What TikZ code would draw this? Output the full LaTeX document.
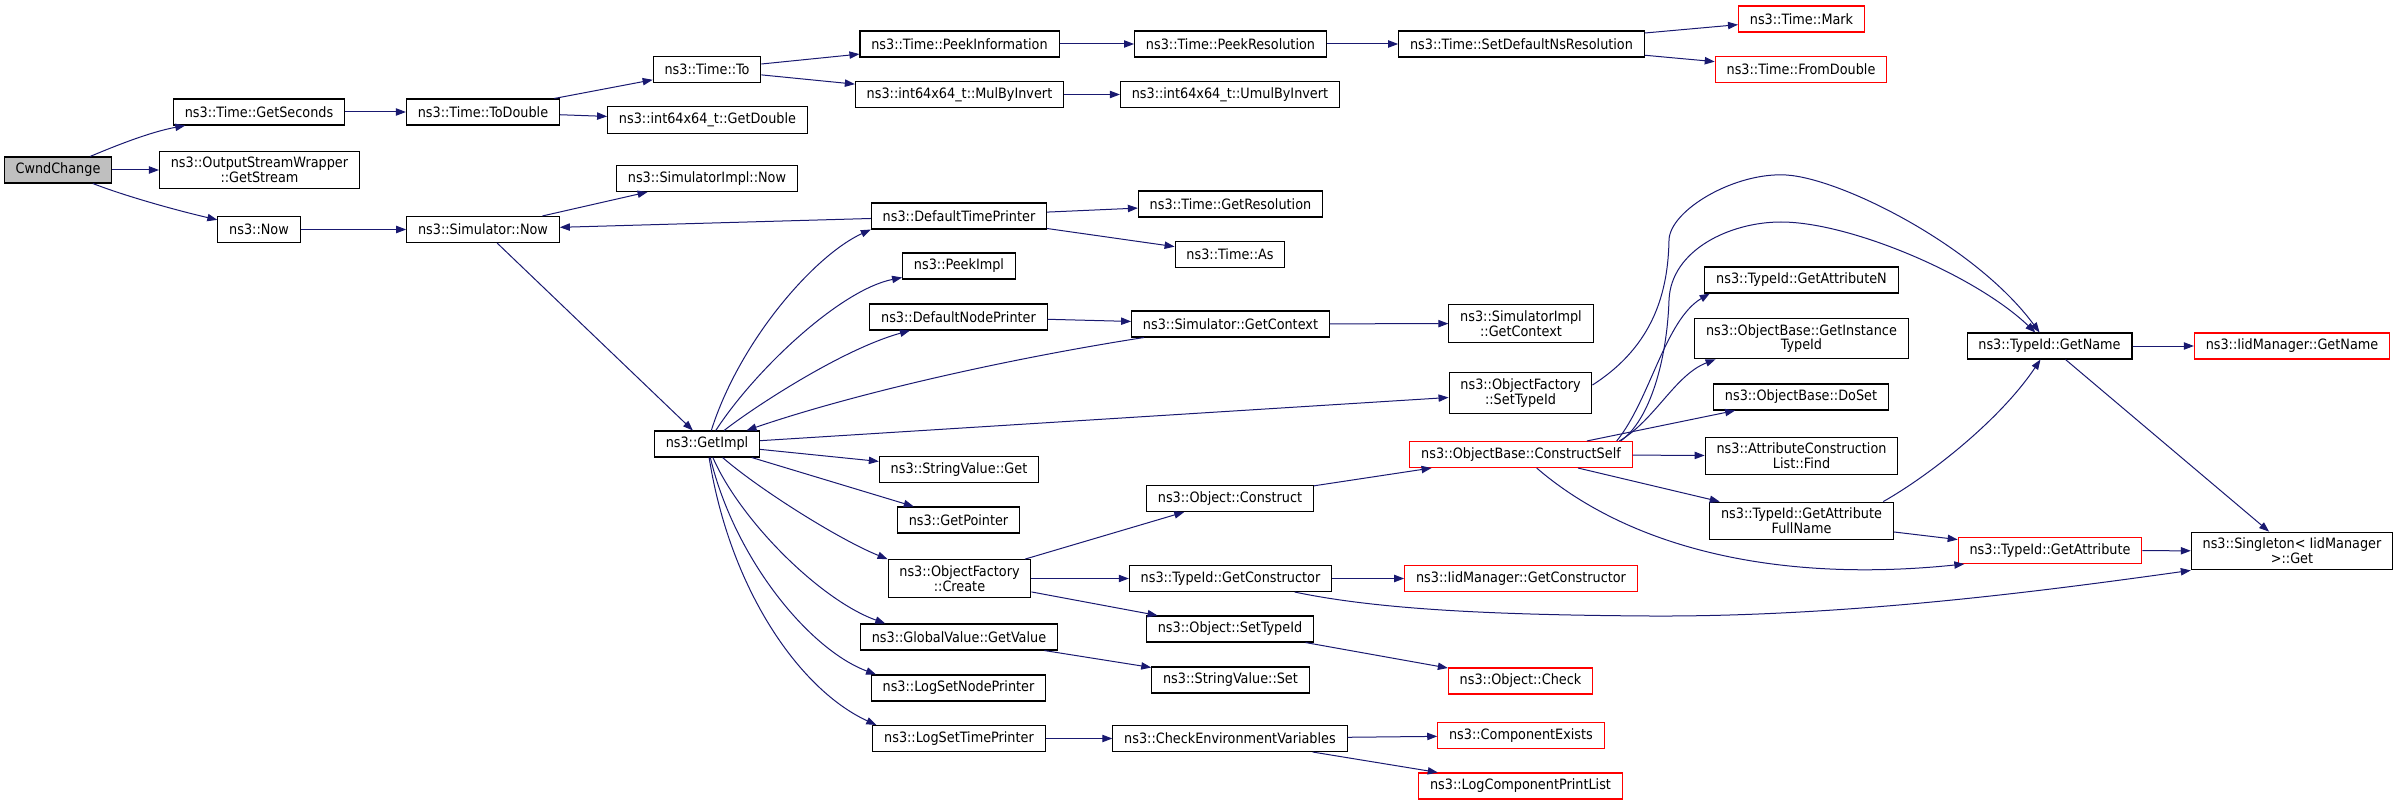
\documentclass[tikz,border=0pt]{standalone}
\usepackage{fontspec}
\IfFontExistsTF{DejaVu Sans Condensed}{\setmainfont{DejaVu Sans Condensed}}{\setmainfont{DejaVu Sans}[FakeStretch=0.9]}
\usetikzlibrary{arrows.meta}
\definecolor{edgeblue}{RGB}{25,25,112}
\definecolor{boxgray}{RGB}{191,191,191}
\definecolor{boxred}{RGB}{255,0,0}

\begin{document}
\begin{tikzpicture}[x=0.75pt,y=-0.75pt,
    fn/.style={draw=black,line width=0.8pt,fill=white,rectangle,minimum height=19.5pt,
      inner xsep=8.5pt,inner ysep=4.5pt,align=center,font=\fontsize{10.7}{11}\selectfont},
    fnred/.style={fn,draw=boxred},
    fncur/.style={fn,fill=boxgray},
    call/.style={draw=edgeblue,line width=0.75pt,-{Triangle[length=7.5pt,width=5.5pt]}}]
  \useasboundingbox (0,0) rectangle (2393,805);

  \node[fncur] (cwnd) at (58,170) {CwndChange};
  \node[fn] (gsec) at (259,112) {ns3::Time::GetSeconds};
  \node[fn] (osw) at (259.5,170) {ns3::OutputStreamWrapper\\::GetStream};
  \node[fn] (now) at (259,229.5) {ns3::Now};
  \node[fn] (todbl) at (483,112) {ns3::Time::ToDouble};
  \node[fn] (snow) at (483,229.5) {ns3::Simulator::Now};
  \node[fn] (tto) at (707,69.5) {ns3::Time::To};
  \node[fn] (gdbl) at (707.5,120) {ns3::int64x64\_t::GetDouble};
  \node[fn] (sinow) at (707,178.5) {ns3::SimulatorImpl::Now};
  \node[fn] (gimpl) at (707,444) {ns3::GetImpl};
  \node[fn] (peekinfo) at (959.5,44) {ns3::Time::PeekInformation};
  \node[fn] (mulinv) at (959.5,94.5) {ns3::int64x64\_t::MulByInvert};
  \node[fn] (dtp) at (959,216) {ns3::DefaultTimePrinter};
  \node[fn] (peekimpl) at (959,266) {ns3::PeekImpl};
  \node[fn] (dnp) at (958.5,317) {ns3::DefaultNodePrinter};
  \node[fn] (svget) at (959,469.5) {ns3::StringValue::Get};
  \node[fn] (gptr) at (958.5,520) {ns3::GetPointer};
  \node[fn] (ofcreate) at (959.5,578.5) {ns3::ObjectFactory\\::Create};
  \node[fn] (gvget) at (959,637) {ns3::GlobalValue::GetValue};
  \node[fn] (lsnp) at (958.5,688) {ns3::LogSetNodePrinter};
  \node[fn] (lstp) at (959,738.5) {ns3::LogSetTimePrinter};
  \node[fn] (peekres) at (1230.5,44) {ns3::Time::PeekResolution};
  \node[fn] (umul) at (1230,94.5) {ns3::int64x64\_t::UmulByInvert};
  \node[fn] (gres) at (1230.5,204) {ns3::Time::GetResolution};
  \node[fn] (tas) at (1230,254.5) {ns3::Time::As};
  \node[fn] (sgctx) at (1230.5,324) {ns3::Simulator::GetContext};
  \node[fn] (ocons) at (1230,498.5) {ns3::Object::Construct};
  \node[fn] (gctor) at (1230.5,578.5) {ns3::TypeId::GetConstructor};
  \node[fn] (osettid) at (1230,629) {ns3::Object::SetTypeId};
  \node[fn] (svset) at (1230.5,680) {ns3::StringValue::Set};
  \node[fn] (cev) at (1230,738.5) {ns3::CheckEnvironmentVariables};
  \node[fn] (setdef) at (1521.5,44) {ns3::Time::SetDefaultNsResolution};
  \node[fn] (sigctx) at (1521,323.5) {ns3::SimulatorImpl\\::GetContext};
  \node[fn] (ofsettid) at (1520.5,393) {ns3::ObjectFactory\\::SetTypeId};
  \node[fnred] (cself) at (1521,454.5) {ns3::ObjectBase::ConstructSelf};
  \node[fnred] (igctor) at (1521,578.5) {ns3::IidManager::GetConstructor};
  \node[fnred] (ocheck) at (1520.5,681) {ns3::Object::Check};
  \node[fnred] (cexists) at (1521,735.5) {ns3::ComponentExists};
  \node[fnred] (lcpl) at (1520.5,786) {ns3::LogComponentPrintList};
  \node[fnred] (tmark) at (1801.5,19) {ns3::Time::Mark};
  \node[fnred] (fromdbl) at (1801,69.5) {ns3::Time::FromDouble};
  \node[fn] (gattrn) at (1801.5,280) {ns3::TypeId::GetAttributeN};
  \node[fn] (ginst) at (1801.5,338.5) {ns3::ObjectBase::GetInstance\\TypeId};
  \node[fn] (doset) at (1801,397) {ns3::ObjectBase::DoSet};
  \node[fn] (acfind) at (1801.5,456) {ns3::AttributeConstruction\\List::Find};
  \node[fn] (gattrfull) at (1801.5,521) {ns3::TypeId::GetAttribute\\FullName};
  \node[fn] (gname) at (2049.5,346) {ns3::TypeId::GetName};
  \node[fnred] (gattr) at (2050,550.5) {ns3::TypeId::GetAttribute};
  \node[fnred] (iidgname) at (2292,346) {ns3::IidManager::GetName};
  \node[fn] (singleton) at (2292,551) {ns3::Singleton< IidManager\\>::Get};

  \draw[call] (cwnd) .. controls (115,146) and (150,132) .. (gsec);
  \draw[call] (cwnd) -- (osw);
  \draw[call] (cwnd) .. controls (125,196) and (175,210) .. (now);
  \draw[call] (gsec) -- (todbl);
  \draw[call] (todbl) -- (tto);
  \draw[call] (todbl) -- (gdbl);
  \draw[call] (tto) -- (peekinfo);
  \draw[call] (tto) -- (mulinv);
  \draw[call] (peekinfo) -- (peekres);
  \draw[call] (peekres) -- (setdef);
  \draw[call] (setdef) -- (tmark);
  \draw[call] (setdef) -- (fromdbl);
  \draw[call] (mulinv) -- (umul);
  \draw[call] (now) -- (snow);
  \draw[call] (snow) -- (sinow);
  \draw[call] (snow) -- (gimpl);
  \draw[call] (dtp) -- (snow);
  \draw[call] (dtp) -- (gres);
  \draw[call] (dtp) -- (tas);
  \draw[call] (gimpl) .. controls (740,340) and (815,255) .. (dtp.south west);
  \draw[call] (gimpl) .. controls (755,370) and (840,290) .. (peekimpl);
  \draw[call] (gimpl) .. controls (750,410) and (840,350) .. (dnp);
  \draw[call] (dnp) -- (sgctx);
  \draw[call] (sgctx) .. controls (1000,360) and (850,395) .. (gimpl);
  \draw[call] (sgctx) -- (sigctx);
  \draw[call] (gimpl) -- (ofsettid);
  \draw[call] (gimpl) -- (svget);
  \draw[call] (gimpl) -- (gptr);
  \draw[call] (gimpl) .. controls (760,490) and (840,540) .. (ofcreate.north west);
  \draw[call] (gimpl) .. controls (740,520) and (820,600) .. ([xshift=19pt]gvget.north west);
  \draw[call] (gimpl) .. controls (735,560) and (810,650) .. ([xshift=4pt]lsnp.north west);
  \draw[call] (gimpl) .. controls (730,590) and (800,690) .. ([xshift=3pt]lstp.north west);
  \draw[call] (ofcreate) -- (ocons);
  \draw[call] (ofcreate) -- (gctor);
  \draw[call] (ofcreate) -- (osettid);
  \draw[call] (ocons) -- (cself);
  \draw[call] (gctor) -- (igctor);
  \draw[call] (gctor) .. controls (1380,610) and (1500,615) .. (1650,616)
    .. controls (1850,617) and (2050,590) .. (singleton.south west);
  \draw[call] (osettid) -- (ocheck);
  \draw[call] (gvget) -- (svset);
  \draw[call] (lstp) -- (cev);
  \draw[call] (cev) -- (cexists);
  \draw[call] (cev) -- (lcpl);
  \draw[call] ([yshift=6pt]ofsettid.east) .. controls (1655,345) and (1668,290) .. (1669,240)
    .. controls (1670,210) and (1735,172) .. (1786,175)
    .. controls (1840,178) and (1975,245) .. (gname);
  \draw[call] ([xshift=-9pt]cself.north east) .. controls (1650,420) and (1667,360) .. (1669,300)
    .. controls (1671,250) and (1730,222) .. (1781,222)
    .. controls (1850,222) and (1975,275) .. (gname);
  \draw[call] ([xshift=-12pt]cself.north east) .. controls (1650,400) and (1665,320) .. ([xshift=4pt]gattrn.south west);
  \draw[call] ([xshift=-10pt]cself.north east) .. controls (1655,420) and (1675,375) .. ([xshift=16pt]ginst.south west);
  \draw[call] (cself) -- (doset);
  \draw[call] (cself) -- (acfind);
  \draw[call] (cself) -- (gattrfull);
  \draw[call] (cself) .. controls (1620,540) and (1760,585) .. ([xshift=5pt]gattr.south west);
  \draw[call] ([xshift=-8pt]gattrfull.north east) .. controls (1930,475) and (2000,420) .. (gname);
  \draw[call] (gattrfull) -- (gattr);
  \draw[call] (gname) -- (iidgname);
  \draw[call] (gname) -- (singleton);
  \draw[call] (gattr) -- (singleton);
\end{tikzpicture}
\end{document}
